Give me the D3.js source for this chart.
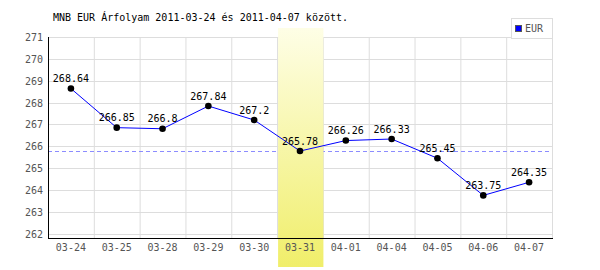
<!DOCTYPE html>
<html>
<head>
<meta charset="utf-8">
<script src="https://cdn.jsdelivr.net/npm/d3@7"></script>
<style>
  body { margin: 0; background: #fff; }
  text { font-family: "DejaVu Sans Mono", monospace; font-size: 10px; }
</style>
</head>
<body>
<svg id="chart" width="600" height="270"></svg>
<script>
const days = ['03-24', '03-25', '03-28', '03-29', '03-30', '03-31', '04-01', '04-04', '04-05', '04-06', '04-07'];
const eur = [268.64, 266.85, 266.8, 267.84, 267.2, 265.78, 266.26, 266.33, 265.45, 263.75, 264.35];
const yTicks = [262, 263, 264, 265, 266, 267, 268, 269, 270, 271];
const highlightDay = '03-31';
const title = 'MNB EUR Árfolyam 2011-03-24 és 2011-04-07 között.';

const margin = { left: 48, right: 552, top: 37, bottom: 238 };

const svg = d3.select('#chart');

const x = d3.scaleBand()
    .domain(days)
    .range([margin.left, margin.right]);

const y = d3.scaleLinear()
    .domain([261.8, 271])
    .range([margin.bottom, margin.top]);

const defs = svg.append('defs');
const grad = defs.append('linearGradient')
    .attr('id', 'hl')
    .attr('x1', 0).attr('y1', 0).attr('x2', 0).attr('y2', 1);
grad.append('stop').attr('offset', '0%').attr('stop-color', '#fefee6');
grad.append('stop').attr('offset', '100%').attr('stop-color', '#f0ee6a');

// grid
const grid = svg.append('g').attr('stroke', '#dddddd').attr('stroke-width', 1);
grid.selectAll('.h')
    .data(yTicks).enter()
    .append('line')
        .attr('x1', margin.left).attr('x2', margin.right)
        .attr('y1', d => Math.round(y(d)) + 0.5)
        .attr('y2', d => Math.round(y(d)) + 0.5);
grid.selectAll('.v')
    .data(days.concat(['end'])).enter()
    .append('line')
        .attr('x1', (d, i) => margin.left + i * x.bandwidth() + 0.5)
        .attr('x2', (d, i) => margin.left + i * x.bandwidth() + 0.5)
        .attr('y1', margin.top).attr('y2', margin.bottom);

// reference line at highlighted value
const hlValue = eur[days.indexOf(highlightDay)];
svg.append('line')
    .attr('x1', margin.left).attr('x2', margin.right)
    .attr('y1', Math.round(y(hlValue)) + 0.5)
    .attr('y2', Math.round(y(hlValue)) + 0.5)
    .attr('stroke', '#8c8cff')
    .attr('stroke-dasharray', '4,3');

// highlighted day
svg.append('rect')
    .attr('x', x(highlightDay) + 1)
    .attr('y', 28)
    .attr('width', x.bandwidth() - 0.5)
    .attr('height', 267 - 28)
    .attr('fill', 'url(#hl)');

// axes
svg.append('line')
    .attr('x1', margin.left + 0.5).attr('x2', margin.left + 0.5)
    .attr('y1', margin.top).attr('y2', margin.bottom + 0.5)
    .attr('stroke', '#000');
svg.append('line')
    .attr('x1', margin.left).attr('x2', margin.right + 1)
    .attr('y1', margin.bottom + 0.5).attr('y2', margin.bottom + 0.5)
    .attr('stroke', '#000');

svg.selectAll('.ylab')
    .data(yTicks).enter()
    .append('text')
        .attr('x', 43)
        .attr('y', d => y(d) + 4)
        .attr('text-anchor', 'end')
        .attr('fill', '#555')
        .text(d => d);

svg.selectAll('.xlab')
    .data(days).enter()
    .append('text')
        .attr('x', d => x(d) + x.bandwidth() / 2)
        .attr('y', 251)
        .attr('text-anchor', 'middle')
        .attr('fill', '#555')
        .text(d => d);

// series
const line = d3.line()
    .x((d, i) => x(days[i]) + x.bandwidth() / 2)
    .y(d => y(d));

svg.append('path')
    .datum(eur)
    .attr('d', line)
    .attr('fill', 'none')
    .attr('stroke', '#0000ff')
    .attr('stroke-width', 1);

svg.selectAll('.pt')
    .data(eur).enter()
    .append('circle')
        .attr('cx', (d, i) => x(days[i]) + x.bandwidth() / 2)
        .attr('cy', d => y(d))
        .attr('r', 3.3)
        .attr('fill', '#000');

svg.selectAll('.vlab')
    .data(eur).enter()
    .append('text')
        .attr('x', (d, i) => x(days[i]) + x.bandwidth() / 2)
        .attr('y', d => y(d) - 6.5)
        .attr('text-anchor', 'middle')
        .attr('fill', '#000')
        .text(d => d);

// title
svg.append('text')
    .attr('x', 53)
    .attr('y', 21)
    .attr('fill', '#000')
    .text(title);

// legend
svg.append('rect')
    .attr('x', 511.5).attr('y', 18.5)
    .attr('width', 41).attr('height', 20)
    .attr('fill', '#fff')
    .attr('stroke', '#dddddd');
svg.append('rect')
    .attr('x', 515.5).attr('y', 25.5)
    .attr('width', 6).attr('height', 6)
    .attr('fill', '#0000ff')
    .attr('stroke', '#555');
svg.append('text')
    .attr('x', 525)
    .attr('y', 32)
    .attr('fill', '#555')
    .text('EUR');
</script>
</body>
</html>
